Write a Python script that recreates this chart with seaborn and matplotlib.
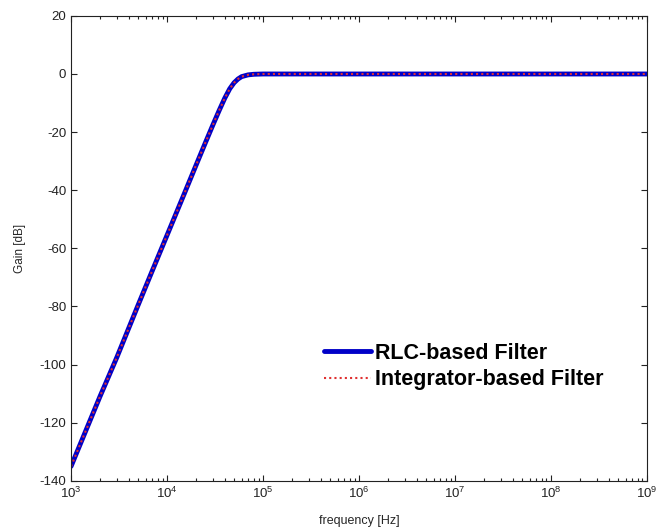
import numpy as np
import pandas as pd
import seaborn as sns
import matplotlib.pyplot as plt
from matplotlib.ticker import FixedLocator, LogLocator, NullFormatter

# values
freq = [1e3, 2e3, 3e3, 5e3, 7e3, 1e4, 1.5e4, 2e4, 2.5e4, 3e4, 3.5e4, 4e4,
        4.5e4, 5e4, 5.5e4, 6e4, 7e4, 8e4, 1e5, 1e6, 1e7, 1e8, 1e9]
gain_rlc = [-135, -111, -97.5, -79.5, -67.8, -55.5, -41.5, -31.5, -23.8,
            -17.6, -12.5, -8.3, -5.1, -3.0, -1.7, -0.9, -0.3, -0.1, 0, 0, 0, 0, 0]
gain_int = [-135, -111, -97.5, -79.5, -67.8, -55.5, -41.5, -31.5, -23.8,
            -17.6, -12.5, -8.3, -5.1, -3.0, -1.7, -0.9, -0.3, -0.1, 0, 0, 0, 0, 0]
xticks = [1e3, 1e4, 1e5, 1e6, 1e7, 1e8, 1e9]
yticks = [-140, -120, -100, -80, -60, -40, -20, 0, 20]
labels = ['RLC-based Filter', 'Integrator-based Filter']

sns.set_theme(style='ticks')
plt.rcParams['font.family'] = ['Liberation Sans', 'DejaVu Sans']
plt.rcParams['mathtext.fontset'] = 'custom'
plt.rcParams['mathtext.rm'] = 'Liberation Sans'
plt.rcParams['mathtext.it'] = 'Liberation Sans'
plt.rcParams['mathtext.default'] = 'regular'
plt.rcParams['axes.unicode_minus'] = False

df = pd.DataFrame({
    'freq': freq + freq,
    'gain': gain_rlc + gain_int,
    'filter': [labels[0]] * len(freq) + [labels[1]] * len(freq),
})

fig = plt.figure(figsize=(6.58, 5.29), dpi=100)
ax = fig.add_axes([0.108, 0.091, 0.875, 0.879])

sns.lineplot(data=df[df['filter'] == labels[0]], x='freq', y='gain',
             color='#0000c8', lw=3.5, ax=ax, label=labels[0])
sns.lineplot(data=df[df['filter'] == labels[1]], x='freq', y='gain',
             color='#e03030', lw=1.5, ls=(0, (1, 1.5)), ax=ax, label=labels[1])

ax.set_xscale('log')
ax.set_xlim(1e3, 1e9)
ax.set_ylim(-140, 20)
ax.set_yticks(yticks)
ax.xaxis.set_major_locator(FixedLocator(xticks))
ax.set_xticklabels(['$10^{%d}$' % int(np.log10(v)) for v in xticks])
ax.xaxis.set_minor_locator(LogLocator(base=10, subs=np.arange(2, 10), numticks=100))
ax.xaxis.set_minor_formatter(NullFormatter())

ax.tick_params(direction='in', which='both', top=True, right=True,
               labelsize=9.5, colors='#222222', width=0.8)
ax.tick_params(which='major', length=4)
ax.tick_params(which='minor', length=2.5)
for s in ax.spines.values():
    s.set_linewidth(0.8)
    s.set_color('#222222')

ax.set_xlabel('frequency [Hz]', fontsize=9, labelpad=10)
ax.set_ylabel('Gain [dB]', fontsize=8.5, labelpad=10)

leg = ax.legend(loc='lower left', bbox_to_anchor=(0.405, 0.153), frameon=False,
                prop={'weight': 'bold', 'size': 15.5}, handlelength=2.2,
                handletextpad=0.2, labelspacing=0.25)
for t in leg.get_texts():
    t.set_color('black')

fig.savefig('out.png', dpi=100, facecolor='white')
